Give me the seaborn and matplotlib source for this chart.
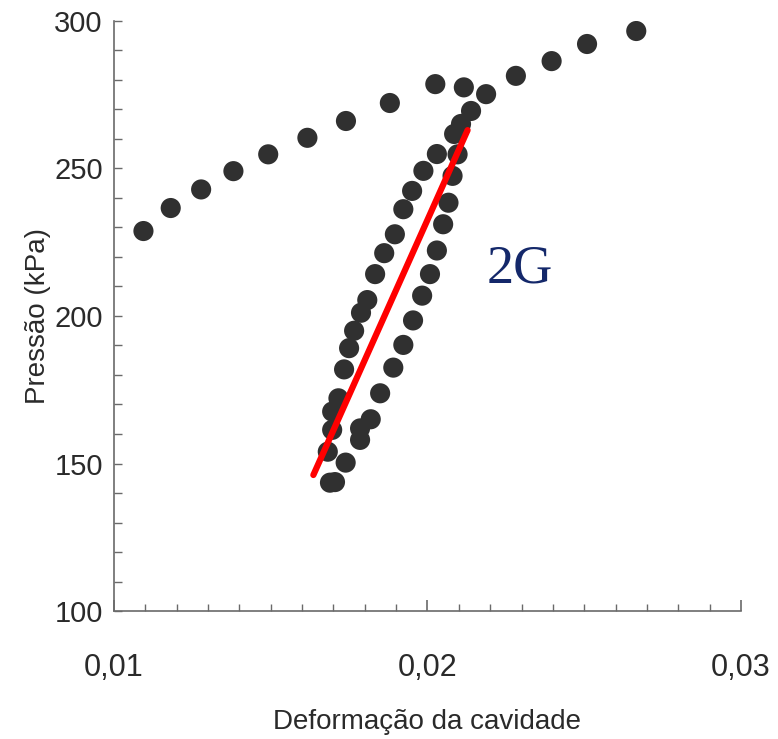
import numpy as np
import seaborn as sns
import pandas as pd
from matplotlib import pyplot as plt
from matplotlib.ticker import MultipleLocator, FixedLocator

# Data (strain, pressure in kPa)
upper_strain = [0.01094, 0.01181, 0.01278, 0.01381, 0.01492, 0.01617, 0.01740,
                0.01880, 0.02025, 0.02116, 0.02187, 0.02282, 0.02396, 0.02509, 0.02666]
upper_pressure = [228.8, 236.6, 242.9, 249.1, 254.8, 260.4, 266.1,
                  272.2, 278.6, 277.5, 275.2, 281.4, 286.4, 292.2, 296.6]

left_strain = [0.01689, 0.01705, 0.01682, 0.01696, 0.01696, 0.01716, 0.01734,
               0.01750, 0.01766, 0.01788, 0.01808, 0.01833, 0.01862, 0.01896,
               0.01923, 0.01951, 0.01987, 0.02030, 0.02085, 0.02107, 0.02139]
left_pressure = [143.5, 143.7, 154.0, 161.4, 167.6, 172.1, 181.9,
                 189.1, 195.0, 201.1, 205.4, 214.2, 221.3, 227.7,
                 236.2, 242.4, 249.2, 254.9, 261.7, 265.1, 269.5]

right_strain = [0.01739, 0.01785, 0.01785, 0.01819, 0.01849, 0.01891, 0.01923,
                0.01954, 0.01983, 0.02008, 0.02030, 0.02050, 0.02067, 0.02080, 0.02096]
right_pressure = [150.3, 158.0, 161.9, 165.0, 173.8, 182.5, 190.2,
                  198.5, 206.9, 214.2, 222.2, 231.1, 238.4, 247.5, 254.8]

fit_strain = [0.01636, 0.02128]
fit_pressure = [146.1, 263.0]

x_ticks = [0.01, 0.02, 0.03]
x_tick_labels = ['0,01', '0,02', '0,03']
y_ticks = [100, 150, 200, 250, 300]

data = pd.DataFrame({
    'strain': upper_strain + left_strain + right_strain,
    'pressure': upper_pressure + left_pressure + right_pressure,
})
fit = pd.DataFrame({'strain': fit_strain, 'pressure': fit_pressure})

sns.set_style('white')
plt.rcParams['font.family'] = ['Liberation Sans', 'DejaVu Sans']

fig = plt.figure(figsize=(7.78, 7.39), dpi=100)
ax = fig.add_axes([0.1465, 0.1732, 0.8059, 0.7984])

sns.scatterplot(data=data, x='strain', y='pressure', ax=ax, s=210,
                color='#303030', edgecolor='none', zorder=2)
sns.lineplot(data=fit, x='strain', y='pressure', ax=ax, color='#ff0000',
             linewidth=4.5, zorder=3, sort=False)

ax.set_xlim(0.01, 0.03)
ax.set_ylim(100, 300)

ax.xaxis.set_major_locator(FixedLocator(x_ticks))
ax.set_xticklabels(x_tick_labels)
ax.xaxis.set_minor_locator(MultipleLocator(0.001))
ax.yaxis.set_major_locator(FixedLocator(y_ticks))
ax.yaxis.set_minor_locator(MultipleLocator(10))

spine_color = '#6a6a6a'
for side in ['top', 'right']:
    ax.spines[side].set_visible(False)
for side in ['left', 'bottom']:
    ax.spines[side].set_color(spine_color)
    ax.spines[side].set_linewidth(1.2)

ax.tick_params(which='both', bottom=True, left=True, top=False, right=False)
ax.tick_params(axis='x', which='major', direction='in', length=8, width=1.2,
               color=spine_color, pad=30, labelsize=22, labelcolor='#2a2a2a')
ax.tick_params(axis='x', which='minor', direction='in', length=5, width=1.0,
               color=spine_color)
ax.tick_params(axis='y', which='both', direction='in', length=6, width=1.0,
               color=spine_color, pad=8, labelsize=21, labelcolor='#2a2a2a')

ax.set_xlabel('Deformação da cavidade', fontsize=20, color='#2a2a2a', labelpad=19)
ax.set_ylabel('Pressão (kPa)', fontsize=20, color='#2a2a2a', labelpad=2)

ax.text(0.02295, 216, '2G', fontsize=39, color='#14286a',
        family=['Liberation Serif', 'DejaVu Serif'], ha='center', va='center')

ax.grid(False)

fig.savefig('out.png', dpi=100)
